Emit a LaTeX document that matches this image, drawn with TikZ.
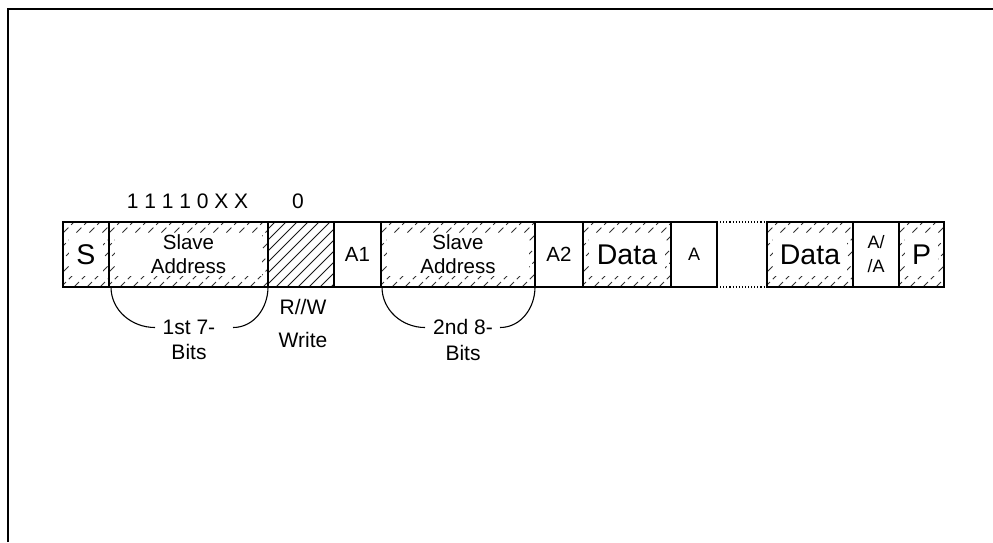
\documentclass[tikz,border=0pt]{standalone}
\usepackage{fontspec}
\setmainfont{Liberation Sans}
\begin{document}
\begin{tikzpicture}[x=1pt,y=1pt,
  box/.style={draw, line width=1.1pt, inner sep=0pt, outer sep=0pt, minimum height=65, anchor=west},
  hatchline/.style={black!80, line width=0.9pt},
  hatchd/.style={path picture={
    \foreach \i in {-80,-67,...,170}{
      \draw[hatchline, dash pattern=on 7pt off 4pt] ([xshift=\i pt]path picture bounding box.south west) -- ++(45:120pt);
    }}},
  hatchs/.style={path picture={
    \foreach \i in {-80,-69,...,80}{
      \draw[hatchline, black!90] ([xshift=\i pt]path picture bounding box.south west) -- ++(45:120pt);
    }}},
  inner/.style={fill=white, inner sep=0pt, align=center, minimum height=43},
  bigtxt/.style={font=\fontsize{28.5}{30}\selectfont},
  smalltxt/.style={font=\fontsize{20.5}{24}\selectfont, align=center},
  tinytxt/.style={font=\fontsize{18}{24}\selectfont, align=center},
  lbl/.style={font=\fontsize{21}{25.5}\selectfont, align=center, inner sep=0pt},
  brace/.style={line width=1.1pt}
]
\useasboundingbox (0,0) rectangle (993,-542);
% frame
\draw[line width=2pt, line join=miter] (7.7,-542) -- (7.7,-9.2) -- (993,-9.2);

% boxes
\node[box, hatchd, minimum width=46] (s) at (63,-254.5) {};
\node[box, hatchd, minimum width=159] (sa1) at (s.east) {};
\node[box, hatchs, minimum width=66] (rw) at (sa1.east) {};
\node[box, minimum width=47] (a1) at (rw.east) {};
\node[box, hatchd, minimum width=154] (sa2) at (a1.east) {};
\node[box, minimum width=48] (a2) at (sa2.east) {};
\node[box, hatchd, minimum width=88] (d1) at (a2.east) {};
\node[box, minimum width=46] (a) at (d1.east) {};
\node[box, hatchd, minimum width=86] (d2) at ([xshift=50]a.east) {};
\node[box, minimum width=46] (aa) at (d2.east) {};
\node[box, hatchd, minimum width=45] (p) at (aa.east) {};

% dotted gap
\draw[line width=1.1pt, dotted] (a.north east) -- (d2.north west);
\draw[line width=1.1pt, dotted] (a.south east) -- (d2.south west);

% texts in boxes
\node[inner, bigtxt, minimum width=34] (st) at (s) {S};
\node[inner, smalltxt, minimum width=147] (sa1t) at (sa1) {Slave\\Address};
\node[smalltxt, inner sep=0pt] (a1t) at (a1) {A1};
\node[inner, smalltxt, minimum width=142] (sa2t) at (sa2) {Slave\\Address};
\node[smalltxt, inner sep=0pt] (a2t) at (a2) {A2};
\node[inner, bigtxt, minimum width=76] (d1t) at (d1) {Data};
\node[tinytxt, inner sep=0pt] (at) at (a) {A};
\node[inner, bigtxt, minimum width=74] (d2t) at (d2) {Data};
\node[tinytxt, inner sep=0pt] (aat) at (aa) {A/\\/A};
\node[inner, bigtxt, minimum width=33] (pt) at (p) {P};

% top labels
\node[lbl] (bits) at (187.5,-201.5) {1 1 1 1 0 X X};
\node[lbl] (zero) at (298,-201.5) {0};

% lower labels
\node[lbl] (rwt) at (303,-307) {R//W};
\node[lbl] (wt) at (303,-340) {Write};
\node[lbl] (b1) at (189,-340) {1st 7-\\Bits};
\node[lbl] (b2) at (463,-340) {2nd 8-\\Bits};

% braces
\coordinate (c1l) at (155,-327.5);
\coordinate (c1r) at (233,-327.5);
\coordinate (c2l) at (425,-327.5);
\coordinate (c2r) at (500,-327.5);
\draw[brace] ([xshift=2pt]sa1.south west) to[out=-90,in=180] (c1l);
\draw[brace] (c1r) to[out=0,in=-90] (sa1.south east);
\draw[brace] ([xshift=1pt]sa2.south west) to[out=-90,in=180] (c2l);
\draw[brace] (c2r) to[out=0,in=-90] (sa2.south east);
\end{tikzpicture}
\end{document}
